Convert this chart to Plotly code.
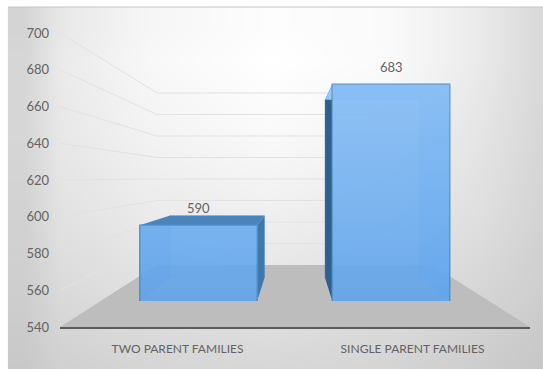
import plotly.graph_objects as go

categories = ["TWO PARENT FAMILIES", "SINGLE PARENT FAMILIES"]
values = [590, 683]
tick_values = [540, 560, 580, 600, 620, 640, 660, 680, 700]

W, H = 543, 369
PANEL = (8, 7, 543, 369)
BASE = 540


def dom_x(a, b):
    return [a / W, b / W]


def dom_y(top, bottom):
    return [1 - bottom / H, 1 - top / H]


# Projection planes: pixel position of value v on axis, back wall, front and rear bar faces
def tick_py(v):
    return 327 - (v - BASE) * 294 / 160


def wall_py(v):
    return 265 - (v - BASE) * 172 / 160


def front_py(v):
    return 301 - (v - BASE) * 1.516


def rear_py(v):
    return 278 - (v - BASE) * 1.247


BAR_HALF = 0.305


def front_px(i):
    return 198.5 + i * 192.5


def rear_px(i):
    return 217 + i * 155.5


# Background grey levels (sampled grid, left to right, top to bottom); cell centres
bg_x = [25.3, 60, 150, 270, 390, 480, 543]
bg_y = [24.7, 60, 130, 210, 290, 369]
bg_grey = [
    [212, 232, 246, 253, 250, 234, 216],
    [214, 234, 248, 255, 250, 234, 216],
    [214, 232, 243, 250, 244, 229, 214],
    [210, 226, 235, 240, 234, 223, 211],
    [206, 218, 225, 228, 223, 214, 206],
    [200, 208, 213, 215, 212, 205, 198],
]

fig = go.Figure()

# Stage: background, floor, back wall grid
fig.add_trace(go.Heatmap(x=bg_x, y=bg_y, z=bg_grey, zmin=0, zmax=255, zsmooth="best",
                         colorscale=[[0, "rgb(0,0,0)"], [1, "rgb(255,255,255)"]],
                         showscale=False, hoverinfo="skip"))
fig.add_trace(go.Scatter(x=[PANEL[0], PANEL[2]], y=[PANEL[1], PANEL[1]], mode="lines",
                         line=dict(color="#c4c4c4", width=1), hoverinfo="skip"))
fig.add_trace(go.Scatter(x=[60, 530, 432, 157, 60], y=[327, 327, 265, 265, 327], mode="lines",
                         fill="toself", fillcolor="#bdbdbd", line=dict(width=0), hoverinfo="skip"))
for v in tick_values[1:]:
    fig.add_trace(go.Scatter(x=[60, 157, 432], y=[tick_py(v), wall_py(v), wall_py(v)], mode="lines",
                             line=dict(color="#e2e2e2", width=1), hoverinfo="skip"))

# Rear faces
fig.add_trace(go.Bar(x=[0, 1], y=values, width=2 * BAR_HALF, xaxis="x2", yaxis="y2",
                     marker=dict(color="rgba(91,155,213,0.12)", line=dict(color="rgba(70,130,190,0.45)", width=1)),
                     hoverinfo="skip"))

# Side and top faces of each bar, projected from its value
side_colors = [
    dict(left="rgba(90,155,220,0.35)", right="#3f78ad", top="#4a84bb"),
    dict(left="#2f5f8c", right="rgba(120,180,240,0.55)", top="#93c8fb"),
]
for i, v in enumerate(values):
    fl, fr = front_px(i) - BAR_HALF * 192.5, front_px(i) + BAR_HALF * 192.5
    rl, rr = rear_px(i) - BAR_HALF * 155.5, rear_px(i) + BAR_HALF * 155.5
    ft, fb, rt, rb = front_py(v), front_py(BASE), rear_py(v), rear_py(BASE)
    c = side_colors[i]
    for xs, ys, col in [
        ([fl, rl, rl, fl], [ft, rt, rb, fb], c["left"]),
        ([fr, rr, rr, fr], [ft, rt, rb, fb], c["right"]),
        ([fl, fr, rr, rl], [ft, ft, rt, rt], c["top"]),
    ]:
        fig.add_trace(go.Scatter(x=xs, y=ys, mode="lines", fill="toself", fillcolor=col,
                                 line=dict(width=0), xaxis="x3", yaxis="y3", hoverinfo="skip"))

# Front faces
fig.add_trace(go.Bar(x=[0, 1], y=values, width=2 * BAR_HALF, xaxis="x4", yaxis="y4",
                     marker=dict(color="rgba(92,162,236,0.86)", line=dict(color="#4f8fcc", width=1.5)),
                     hoverinfo="skip"))
# Light sheen over the front faces
for i, v in enumerate(values):
    fl, fr = front_px(i) - BAR_HALF * 192.5, front_px(i) + BAR_HALF * 192.5
    fig.add_trace(go.Scatter(x=[fl, fr, fr, fl], y=[front_py(v), front_py(v), front_py(BASE), front_py(BASE)],
                             mode="lines", fill="toself", line=dict(width=0), xaxis="x5", yaxis="y5",
                             fillgradient=dict(type="vertical", start=front_py(max(values)), stop=front_py(BASE),
                                               colorscale=[[0, "rgba(190,225,255,0.4)"], [1, "rgba(190,225,255,0)"]]),
                             hoverinfo="skip"))

# Axis holder: tick labels and front edge
fig.add_trace(go.Scatter(x=[0, 1], y=values, mode="none", xaxis="x6", yaxis="y6", hoverinfo="skip"))

hidden = dict(visible=False, fixedrange=True, automargin=False)
stage_x = dict(hidden, range=[0, W], domain=[0, 1])
stage_y = dict(hidden, range=[H, 0], domain=[0, 1])

annotations = [
    dict(x=i, y=v, xref="x4", yref="y4", text=str(v), showarrow=False, yshift=17, yanchor="middle",
         font=dict(family="Lato", size=13, color="#636363"))
    for i, v in enumerate(values)
]

fig.update_layout(
    template="none",
    width=W, height=H, autosize=False,
    margin=dict(l=0, r=0, t=0, b=0, pad=0),
    paper_bgcolor="white", plot_bgcolor="rgba(0,0,0,0)",
    showlegend=False, barmode="overlay",
    font=dict(family="Lato", size=12, color="#636363"),
    annotations=annotations,
    xaxis=dict(stage_x, anchor="y"), yaxis=dict(stage_y, anchor="x"),
    xaxis2=dict(hidden, domain=dom_x(rear_px(0) - 77.75, rear_px(1) + 77.75), range=[-0.5, 1.5], anchor="y2"),
    yaxis2=dict(hidden, domain=dom_y(rear_py(700), rear_py(BASE)), range=[BASE, 700], anchor="x2"),
    xaxis3=dict(stage_x, anchor="y3"), yaxis3=dict(stage_y, anchor="x3"),
    xaxis4=dict(hidden, domain=dom_x(front_px(0) - 96.25, front_px(1) + 96.25), range=[-0.5, 1.5], anchor="y4"),
    yaxis4=dict(hidden, domain=dom_y(front_py(700), front_py(BASE)), range=[BASE, 700], anchor="x4"),
    xaxis5=dict(stage_x, anchor="y5"), yaxis5=dict(stage_y, anchor="x5"),
    xaxis6=dict(domain=dom_x(60, 530), range=[-0.5, 1.5], anchor="y6", tickmode="array", automargin=False,
                tickvals=[0, 1], ticktext=categories, showgrid=False, zeroline=False, ticks="",
                showline=True, linecolor="#5a5a5a", linewidth=2, ticklabelstandoff=10,
                tickfont=dict(family="Lato", size=12, color="#636363"), fixedrange=True),
    yaxis6=dict(domain=dom_y(tick_py(700), tick_py(BASE)), range=[BASE, 700], anchor="x6", tickmode="array", automargin=False,
                tickvals=tick_values, showgrid=False, zeroline=False, ticks="", showline=False,
                ticklabelstandoff=10, tickfont=dict(family="Lato", size=13, color="#636363"), fixedrange=True),
)

fig.write_html("out.html", config=dict(displayModeBar=False),
               post_script="document.body.style.margin='0';document.documentElement.style.overflow='hidden';")
